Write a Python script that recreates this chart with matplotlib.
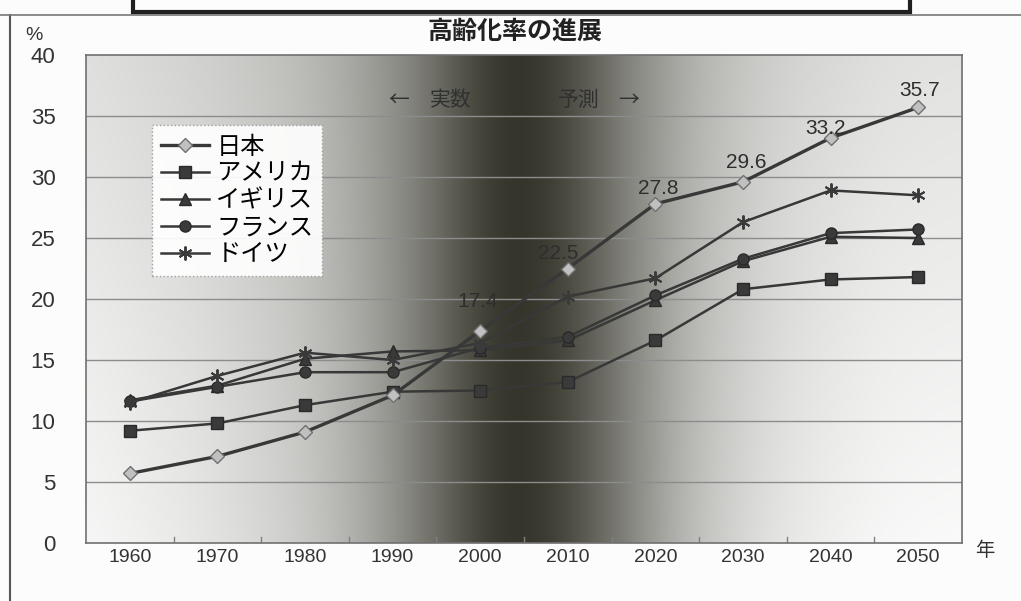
import numpy as np
import matplotlib
matplotlib.use("Agg")
import matplotlib.pyplot as plt
from matplotlib.lines import Line2D
from matplotlib.patches import Rectangle

# ---------------- data ----------------
years = ["1960", "1970", "1980", "1990", "2000", "2010", "2020", "2030", "2040", "2050"]
japan   = [5.7, 7.1, 9.1, 12.1, 17.4, 22.5, 27.8, 29.6, 33.2, 35.7]
usa     = [9.2, 9.8, 11.3, 12.4, 12.5, 13.2, 16.6, 20.8, 21.6, 21.8]
uk      = [11.7, 12.9, 15.1, 15.7, 15.8, 16.6, 19.9, 23.1, 25.1, 25.0]
france  = [11.6, 12.8, 14.0, 14.0, 16.0, 16.9, 20.3, 23.3, 25.4, 25.7]
germany = [11.5, 13.7, 15.6, 15.0, 16.4, 20.2, 21.7, 26.3, 28.9, 28.5]
series_names = ["日本", "アメリカ", "イギリス", "フランス", "ドイツ"]
japan_labels = ["17.4", "22.5", "27.8", "29.6", "33.2", "35.7"]
japan_label_years = ["2000", "2010", "2020", "2030", "2040", "2050"]
title = "高齢化率の進展"
yticks = [0, 5, 10, 15, 20, 25, 30, 35, 40]

# ---------------- style ----------------
W, H = 1021, 601
fig = plt.figure(figsize=(W / 100, H / 100), dpi=100)
fig.patch.set_facecolor("#fcfcfc")
CJK = ["Noto Sans CJK JP", "DejaVu Sans"]
NUM = ["Liberation Sans", "DejaVu Sans"]

ax_l, ax_r, ax_t, ax_b = 86, 962, 55, 543
ax = fig.add_axes([ax_l / W, 1 - ax_b / H, (ax_r - ax_l) / W, (ax_b - ax_t) / H])
x = np.arange(len(years))
ax.set_xlim(-0.5, len(years) - 0.5)
ax.set_ylim(0, 40)

# background gradient (style)
gx = np.array([-2.5, -0.5, 0.8, 1.95, 2.86, 3.55, 4.0, 4.3, 4.7, 5.14, 5.83, 6.51, 7.42, 8.56, 9.5, 11.5])
gv = np.array([0.92, 0.92, 0.86, 0.77, 0.62, 0.42, 0.25, 0.17, 0.20, 0.33, 0.57, 0.74, 0.86, 0.92, 0.93, 0.93])
dx = 0.005
fine = np.arange(-2.5, 11.5, dx)
prof = np.interp(fine, gx, gv)
kx = np.arange(-240, 241) * dx
k = np.exp(-0.5 * (kx / 0.3) ** 2)
k /= k.sum()
prof = np.convolve(prof, k, mode="same")
keep = (fine >= -0.5) & (fine <= 9.5)
prof = prof[keep]
ys = np.linspace(0, 1, 80)[:, None]
light = np.clip((prof[None, :] - 0.5) / 0.4, 0, 1)
img = prof[None, :] + (0.05 - 0.09 * ys) * light
r = img
g = img
b = img - 0.05 * (1 - img)
rgb = np.clip(np.stack([r, g, b], axis=-1), 0, 1)
ax.imshow(rgb, extent=(-0.5, 9.5, 0, 40), aspect="auto", origin="lower", zorder=0,
          interpolation="bilinear")

for v in yticks[1:-1]:
    ax.axhline(v, color="#8c8c8c", lw=1.0, zorder=1)
for s in ax.spines.values():
    s.set_color("#707070")
    s.set_linewidth(1.2)

line_kw = dict(color="#383838", lw=1.8, zorder=3)
ax.plot(x, usa, marker="s", ms=8, mfc="#3a3a3a", mec="#2a2a2a", label=series_names[1], **line_kw)
ax.plot(x, uk, marker="^", ms=8, mfc="#3a3a3a", mec="#2a2a2a", label=series_names[2], **line_kw)
ax.plot(x, france, marker="o", ms=8, mfc="#3a3a3a", mec="#2a2a2a", label=series_names[3], **line_kw)
ax.plot(x, germany, marker=(6, 2, 0), ms=10, mew=1.4, mec="#3a3a3a", label=series_names[4], **line_kw)
ax.plot(x, japan, marker="D", ms=7, mfc="#c0c0c0", mec="#707070", color="#383838",
        lw=2.4, zorder=4, label=series_names[0])

offsets = [(-2, 21), (-7, 11), (2, 11), (2, 14), (-4, 7), (1, 12.5)]
for lab, yr, off in zip(japan_labels, japan_label_years, offsets):
    i = years.index(yr)
    ax.annotate(lab, (x[i], japan[i]), xytext=off, textcoords="offset points",
                ha="center", va="center", fontsize=15, family=NUM, color="#2e2e2e", zorder=5)

ax.set_yticks(yticks)
ax.set_yticklabels([str(v) for v in yticks], fontsize=16, family=NUM, color="#333333")
ax.set_xticks(x)
ax.set_xticklabels(years, fontsize=14, family=NUM, color="#333333")
ax.tick_params(axis="both", length=0)
ax.tick_params(axis="x", pad=4)
ax.tick_params(axis="y", pad=22)
# category boundary ticks
for b_ in np.arange(0.5, 9.5, 1.0):
    ax.plot([b_, b_], [0, 0.5], color="#808080", lw=1, zorder=2)

for txt, px in [("←", 398), ("実数", 450), ("予測", 578), ("→", 628)]:
    ax.text((px - 129) / 87.6, 36.3, txt, fontsize=15, family=CJK, color="#303030",
            ha="center", va="center", zorder=5)

# legend: Japan first
handles, labels = ax.get_legend_handles_labels()
order = [4, 0, 1, 2, 3]
leg = ax.legend([handles[i] for i in order], [labels[i] for i in order],
                loc="upper left", bbox_to_anchor=((152 - ax_l) / (ax_r - ax_l), (ax_b - 125) / (ax_b - ax_t)),
                borderaxespad=0, prop={"family": CJK, "size": 17.5}, fancybox=False,
                handlelength=2.0, handletextpad=0.3, labelspacing=0.04, borderpad=0.35,
                framealpha=0.92, facecolor="white", edgecolor="#9a9a9a")
leg.get_frame().set_linestyle(":")
leg.set_zorder(6)

# title and unit labels
fig.text(515 / W, 1 - 32 / H, title, fontsize=18, fontweight="bold", family=CJK,
         ha="center", va="center", color="#222222")
fig.text(34 / W, 1 - 35 / H, "%", fontsize=14, family=NUM, ha="center", va="center", color="#333333")
fig.text(985 / W, 1 - 551 / H, "年", fontsize=14, family=CJK, ha="center", va="center", color="#333333")

# outer chart frame and top box (decoration)
fig.add_artist(Line2D([10 / W, 10 / W], [0, 1 - 15 / H], transform=fig.transFigure, color="#555555", lw=1.5))
fig.add_artist(Line2D([0, 1], [1 - 15 / H, 1 - 15 / H], transform=fig.transFigure, color="#777777", lw=1.2))
fig.add_artist(Rectangle((133 / W, 1 - 12 / H), (910 - 133) / W, 30 / H, transform=fig.transFigure,
                         facecolor="#fdfdfd", edgecolor="#202020", lw=3.0, zorder=5))

fig.savefig("out.png", dpi=100)
